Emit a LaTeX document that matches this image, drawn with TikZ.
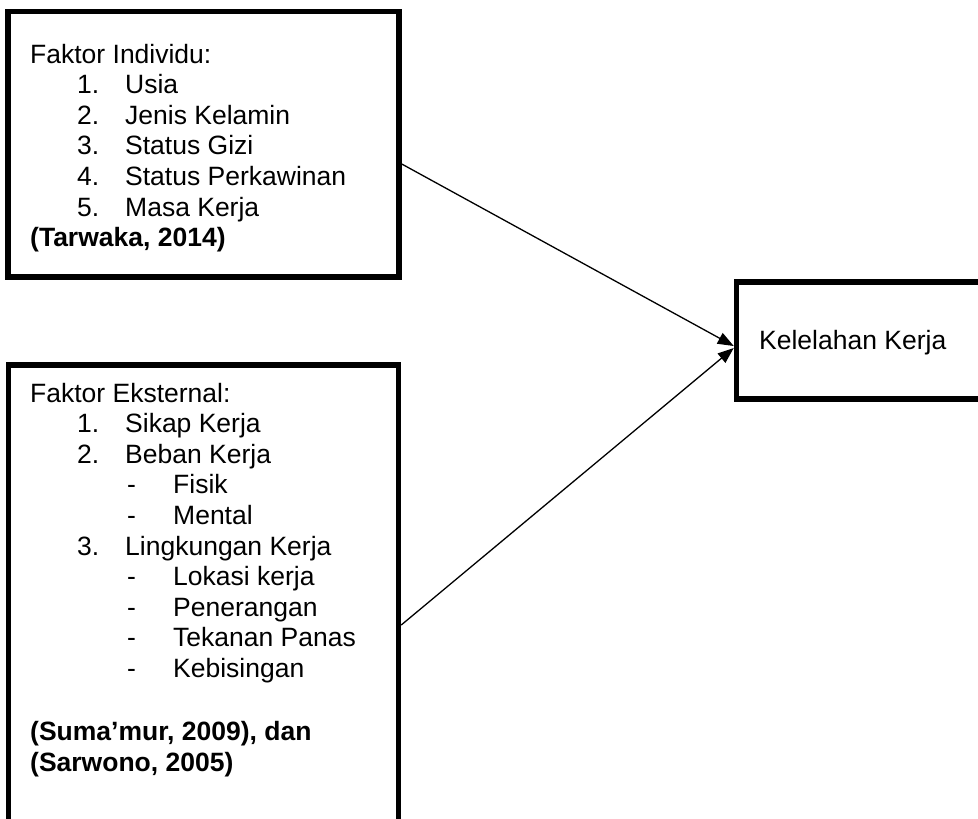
\documentclass[tikz,border=0pt]{standalone}
\usepackage{fontspec}
\setmainfont{Liberation Sans}
\usetikzlibrary{arrows.meta,calc}
\begin{document}
\begin{tikzpicture}[x=1pt,y=-1pt,
  boxframe/.style={draw=black, line width=5.5pt, rectangle, inner sep=0pt},
  txt/.style={anchor=base west, inner sep=0pt, font=\fontsize{26.5}{30.6}\selectfont},
  btxt/.style={txt, font=\fontsize{26.5}{30.6}\selectfont\bfseries},
  conn/.style={draw=black, line width=1.3pt, -{Triangle[length=16pt,width=12pt]}}]
\useasboundingbox (0,0) rectangle (978,819);
\clip (0,0) rectangle (978,819);
% boxes
\node[boxframe, minimum width=391pt, minimum height=265.5pt] (b1) at (203.5,144.25) {};
\node[boxframe, minimum width=390.2pt, minimum height=515pt] (b2) at (203.4,622.5) {};
\node[boxframe, minimum width=263.5pt, minimum height=117pt] (b3) at (868.25,340.5) {};
% box 1 text
\node[txt] (a0) at (30,63) {Faktor Individu:};
\node[txt] (a1n) at (77,93.6) {1.};   \node[txt] (a1) at (125,93.6) {Usia};
\node[txt] (a2n) at (77,124.2) {2.};  \node[txt] (a2) at (125,124.2) {Jenis Kelamin};
\node[txt] (a3n) at (77,154.8) {3.};  \node[txt] (a3) at (125,154.8) {Status Gizi};
\node[txt] (a4n) at (77,185.4) {4.};  \node[txt] (a4) at (125,185.4) {Status Perkawinan};
\node[txt] (a5n) at (77,216) {5.};    \node[txt] (a5) at (125,216) {Masa Kerja};
\node[btxt] (aref) at (30,246.6) {(Tarwaka, 2014)};
% box 2 text
\node[txt] (e0) at (30,402) {Faktor Eksternal:};
\node[txt] (e1n) at (77,432.6) {1.};  \node[txt] (e1) at (125,432.6) {Sikap Kerja};
\node[txt] (e2n) at (77,463.2) {2.};  \node[txt] (e2) at (125,463.2) {Beban Kerja};
\node[txt] (e2ad) at (127,493.8) {-}; \node[txt] (e2a) at (173,493.8) {Fisik};
\node[txt] (e2bd) at (127,524.4) {-}; \node[txt] (e2b) at (173,524.4) {Mental};
\node[txt] (e3n) at (77,555) {3.};    \node[txt] (e3) at (125,555) {Lingkungan Kerja};
\node[txt] (e3ad) at (127,585.6) {-}; \node[txt] (e3a) at (173,585.6) {Lokasi kerja};
\node[txt] (e3bd) at (127,616.2) {-}; \node[txt] (e3b) at (173,616.2) {Penerangan};
\node[txt] (e3cd) at (127,646.8) {-}; \node[txt] (e3c) at (173,646.8) {Tekanan Panas};
\node[txt] (e3dd) at (127,677.4) {-}; \node[txt] (e3d) at (173,677.4) {Kebisingan};
\node[btxt] (eref1) at (30,740) {(Suma’mur, 2009), dan};
\node[btxt] (eref2) at (30,771) {(Sarwono, 2005)};
% box 3 text
\node[txt] (k) at (759,349) {Kelelahan Kerja};
% connectors
\draw[conn] ($(b1.east)+(0,19.75)$) -- ($(b3.west)+(0,5.5)$);
\draw[conn] ($(b2.east)+(0,2.5)$) -- ($(b3.west)+(0,7.5)$);
\end{tikzpicture}
\end{document}
